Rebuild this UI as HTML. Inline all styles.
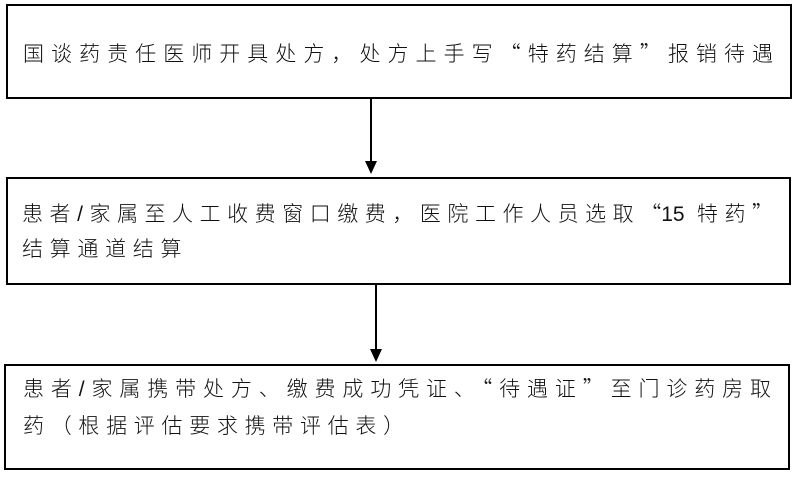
<!DOCTYPE html>
<html><head><meta charset="utf-8"><style>
body{margin:0;width:796px;height:478px;background:#fff;position:relative;overflow:hidden;font-family:"Liberation Sans","Noto Sans CJK SC",sans-serif;color:#111;}
.box{position:absolute;border:2px solid #000;box-sizing:border-box;}
.t{position:absolute;font-size:21px;line-height:24px;white-space:nowrap;font-weight:300;}
.j{text-align:justify;text-align-last:justify;text-justify:inter-character;white-space:normal;}
.q{font-family:"Noto Sans CJK SC",sans-serif;}
</style></head><body>
<div class="box" style="left:6px;top:4px;width:786px;height:95px"></div>
<div class="box" style="left:6px;top:177px;width:785px;height:108px"></div>
<div class="box" style="left:4px;top:364px;width:786px;height:106px"></div>
<svg width="796" height="478" style="position:absolute;left:0;top:0">
<line x1="371" y1="98" x2="371" y2="162" stroke="#000" stroke-width="2"/>
<polygon points="365,161 377,161 371,174" fill="#000"/>
<line x1="376" y1="285" x2="376" y2="350" stroke="#000" stroke-width="2"/>
<polygon points="370,349 382,349 376,362" fill="#000"/>
</svg>
<div class="t j" style="left:23px;top:41px;width:750px">国谈药责任医师开具处方，处方上手写<span class="q">“</span>特药结算<span class="q">”</span>报销待遇</div>
<div class="t j" style="left:22px;top:201px;width:751px">患者/家属至人工收费窗口缴费，医院工作人员选取<span class="q">“</span>15 特药<span class="q">”</span></div>
<div class="t" style="left:22px;top:238px;letter-spacing:6.7px">结算通道结算</div>
<div class="t j" style="left:23px;top:376px;width:748px">患者/家属携带处方、缴费成功凭证、<span class="q">“</span>待遇证<span class="q">”</span>至门诊药房取</div>
<div class="t" style="left:23px;top:415px;letter-spacing:6.7px">药（根据评估要求携带评估表）</div>
</body></html>
